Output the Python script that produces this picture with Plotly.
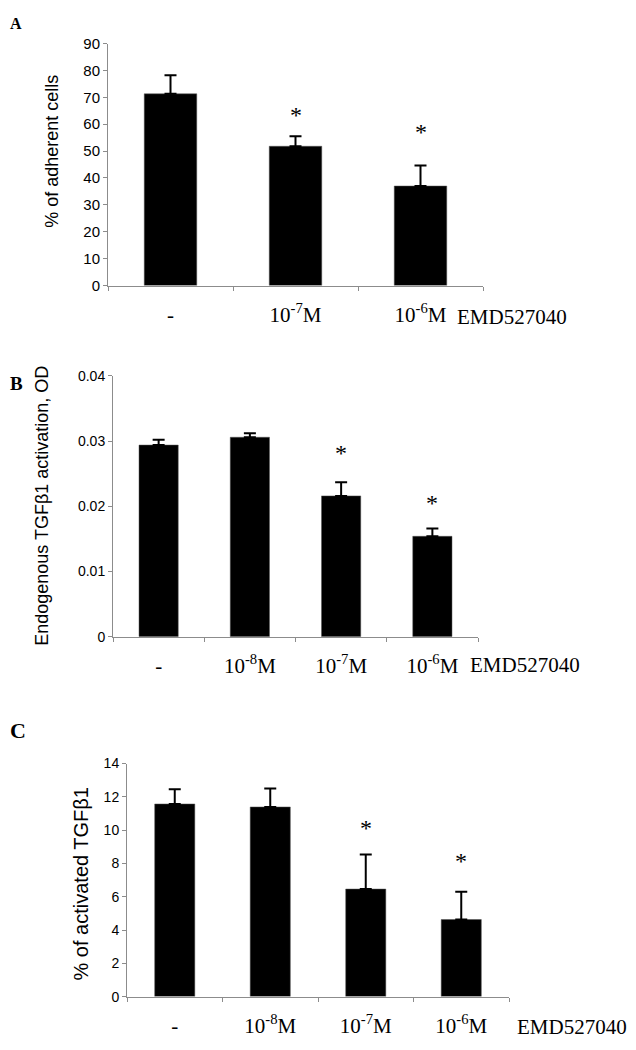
import plotly.graph_objects as go

# panel A: adhesion
a_cats = ['-', '10<sup>-7</sup>M', '10<sup>-6</sup>M']
a_vals = [71.3, 51.8, 37.0]
a_err = [6.9, 3.7, 7.6]
a_star = [None, 63.3, 57.1]

# panel B: endogenous TGFb1 activation
b_cats = ['-', '10<sup>-8</sup>M', '10<sup>-7</sup>M', '10<sup>-6</sup>M']
b_vals = [0.0294, 0.0306, 0.0216, 0.0154]
b_err = [0.0008, 0.0006, 0.0021, 0.0012]
b_star = [None, None, 0.0282, 0.0205]

# panel C: activated TGFb1
c_cats = ['-', '10<sup>-8</sup>M', '10<sup>-7</sup>M', '10<sup>-6</sup>M']
c_vals = [11.57, 11.39, 6.46, 4.63]
c_err = [0.88, 1.11, 2.08, 1.67]
c_star = [None, None, 10.14, 8.13]

# page body keeps its default 8px margin, so the figure is sized to fit inside the window
PAD = 8
W, H = 636 - 2 * PAD, 1050 - 2 * PAD
def px_x(p): return (p - PAD) / W
def px_y(p): return 1 - (p - PAD) / H

panels = [
    # cats, vals, err, stars, xdom(px), ydom(px), range, dtick, title, title pos, title size,
    # tick size, bar width, letter, letter y, letter size, EMD label pos
    (a_cats, a_vals, a_err, a_star, (108, 483), (281, 35), [0, 90], 10,
     '% of adherent cells', (52, 145), 18, 15, 0.42, 'A', 15, 16, (455, 313)),
    (b_cats, b_vals, b_err, b_star, (113, 478), (638, 373), [0, 0.04], 0.01,
     'Endogenous TGF\u03b21 activation, OD', (42, 505), 18, 14, 0.43, 'B', 381, 19, (468, 667)),
    (c_cats, c_vals, c_err, c_star, (127, 509), (1004, 767), [0, 14], 2,
     '% of activated TGF\u03b21', (81, 890), 20, 14, 0.42, 'C', 733, 22, (515, 1035)),
]

fig = go.Figure()
annotations = []
axis_line = '#8c8c8c'

for i, (cats, vals, err, stars, xd, yd, yr, dt, ttl, tpos, tsize, tick_size,
        bw, letter, ly, lsize, epos) in enumerate(panels):
    n = i + 1
    xa = 'x' if n == 1 else 'x%d' % n
    ya = 'y' if n == 1 else 'y%d' % n
    fig.add_trace(go.Bar(
        x=cats, y=vals, width=bw, xaxis=xa, yaxis=ya,
        marker=dict(color='black', line=dict(color='#555', width=0.5)),
        error_y=dict(type='data', array=err, arrayminus=[0] * len(err), symmetric=False,
                     color='black', thickness=2, width=6),
    ))
    fig.update_layout(**{
        ('xaxis' if n == 1 else 'xaxis%d' % n): dict(
            domain=[px_x(xd[0]), px_x(xd[1])], anchor=ya, type='category',
            range=[-0.5, len(cats) - 0.5], showline=True, linecolor=axis_line, linewidth=1,
            ticks='outside', tickson='boundaries', ticklen=4, tickcolor=axis_line,
            showgrid=False, ticklabelstandoff=10,
            tickfont=dict(family='Liberation Serif', size=21, color='black')),
        ('yaxis' if n == 1 else 'yaxis%d' % n): dict(
            domain=[px_y(yd[0]), px_y(yd[1])], anchor=xa, range=yr, dtick=dt,
            showline=True, linecolor=axis_line, linewidth=1, ticks='outside', ticklen=4,
            tickcolor=axis_line, showgrid=False, zeroline=False,
            tickfont=dict(family='Liberation Sans', size=tick_size, color='black')),
    })
    for c, s in zip(cats, stars):
        if s is not None:
            annotations.append(dict(x=c, y=s, xref=xa, yref=ya, text='*', showarrow=False,
                                    font=dict(family='Liberation Serif', size=24, color='black')))
    annotations.append(dict(x=px_x(tpos[0]), y=px_y(tpos[1]), xref='paper', yref='paper',
                            text=ttl, textangle=-90, showarrow=False, xanchor='center', yanchor='middle',
                            font=dict(family='Liberation Sans', size=tsize, color='black')))
    annotations.append(dict(x=0, y=px_y(ly), xref='paper', yref='paper',
                            text='<b>%s</b>' % letter, showarrow=False, xanchor='left', yanchor='middle',
                            font=dict(family='Liberation Serif', size=lsize, color='black')))
    annotations.append(dict(x=px_x(epos[0]), y=px_y(epos[1]), xref='paper', yref='paper',
                            text='EMD527040', showarrow=False, xanchor='left', yanchor='middle',
                            font=dict(family='Liberation Serif', size=21, color='black')))

fig.update_layout(
    width=W, height=H, margin=dict(l=0, r=0, t=0, b=0),
    paper_bgcolor='white', plot_bgcolor='white', showlegend=False,
    annotations=annotations,
)

fig.write_html("out.html")
